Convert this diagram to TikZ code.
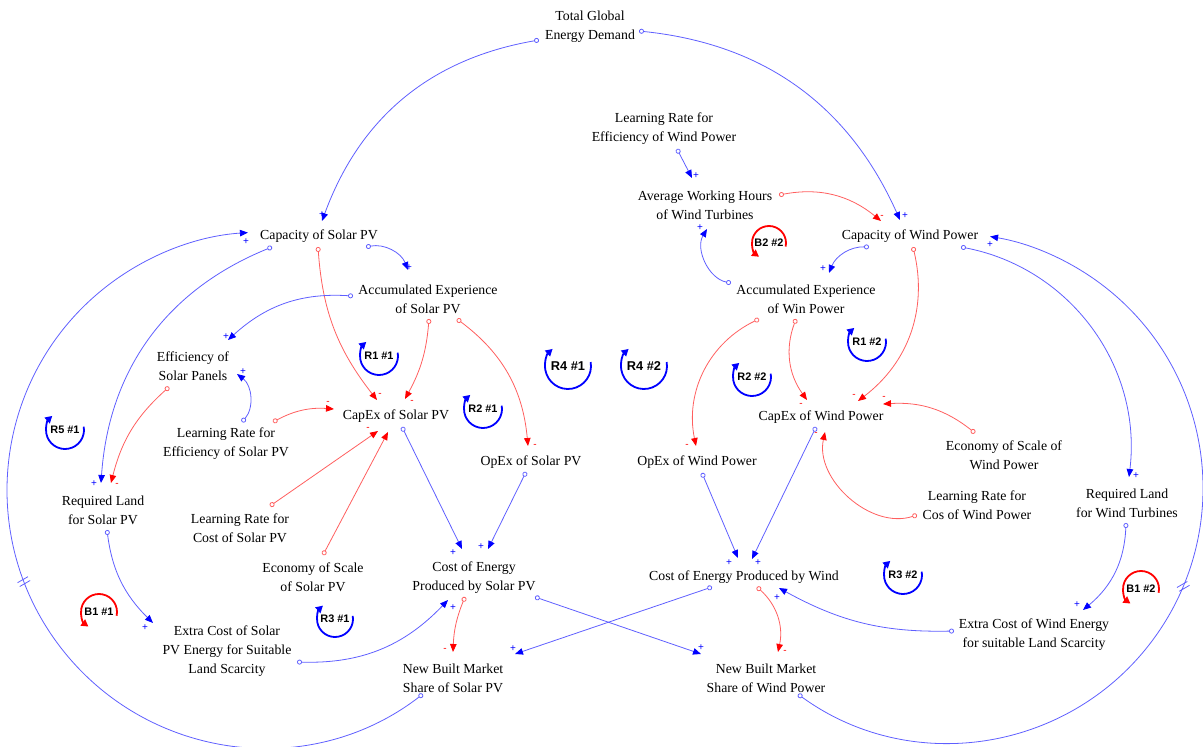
\documentclass[tikz,border=0pt]{standalone}
\usepackage{fontspec}
\setmainfont{Liberation Serif}
\newfontfamily\lpfont{Liberation Sans}
\usetikzlibrary{arrows.meta,calc}
\definecolor{lb}{RGB}{95,95,255}
\definecolor{hb}{RGB}{0,0,255}
\definecolor{lr}{RGB}{255,95,95}
\definecolor{hr}{RGB}{255,0,0}
\tikzset{
  var/.style={align=center, font=\fontsize{13.8}{19}\selectfont, inner sep=0pt},
  lkb/.style={draw=lb, line width=0.8pt, {Circle[open,length=5pt,width=5pt]}-{Triangle[length=8pt,width=6.5pt,color=hb]}},
  lkr/.style={draw=lr, line width=0.8pt, {Circle[open,length=5pt,width=5pt]}-{Triangle[length=8pt,width=6.5pt,color=hr]}},
  sgb/.style={text=hb, font=\lpfont\fontsize{10}{10}\selectfont, inner sep=0pt},
  sgr/.style={text=hr, font=\lpfont\fontsize{10}{10}\selectfont, inner sep=0pt},
  loopb/.style={draw=hb, line width=1.8pt, -{Triangle[length=7pt,width=7.5pt]}},
  loopr/.style={draw=hr, line width=1.8pt, -{Triangle[length=7pt,width=7.5pt]}},
  lpt/.style={font=\lpfont\bfseries\fontsize{10.9}{11}\selectfont, inner sep=0pt},
  lptbig/.style={font=\lpfont\bfseries\fontsize{12.8}{13}\selectfont, inner sep=0pt},
  hashline/.style={draw=lb, line width=0.8pt},
}
\newcounter{lkc}
\newcommand\lk[6]{%
  \stepcounter{lkc}%
  \coordinate (t\thelkc) at (#2);
  \coordinate (h\thelkc) at (#3);
  \draw[lk#1] (t\thelkc) to[#4] (h\thelkc);
  \node[sg#1] (s\thelkc) at (#5) {#6};
}
\newcommand\lpR[5]{% name, center, radius, label, textstyle
  \draw[loopb] ($(#2)+(10:#3)$) arc[start angle=10,end angle=-228,radius=#3];
  \node[#5] (#1) at (#2) {#4};
}
\newcommand\lpB[4]{% name, center, radius, label
  \draw[loopr] ($(#2)+(-12:#3)$) arc[start angle=-12,end angle=234,radius=#3];
  \node[lpt] (#1) at (#2) {#4};
}
\newcommand\hsh[1]{%
  \begin{scope}[shift={(#1)},rotate=30]
    \draw[hashline] (-6,2.2)--(6,2.2) (-6,-2.2)--(6,-2.2);
  \end{scope}
}
\begin{document}
\begin{tikzpicture}[x=1pt,y=1pt]
\useasboundingbox (0,0) rectangle (1203,-747);

% variables
\node[var] (tged) at (590,-27) {Total Global\\Energy Demand};
\node[var] (lrw) at (664,-128.5) {Learning Rate for\\Efficiency of Wind Power};
\node[var] (avg) at (705,-205) {Average Working Hours\\of Wind Turbines};
\node[var] (capS) at (319,-236) {Capacity of Solar PV};
\node[var] (capW) at (910,-236) {Capacity of Wind Power};
\node[var] (accS) at (428,-299.5) {Accumulated Experience\\of Solar PV};
\node[var] (accW) at (806,-299) {Accumulated Experience\\of Win Power};
\node[var] (eff) at (193,-366.5) {Efficiency of\\Solar Panels};
\node[var] (cxS) at (396,-416) {CapEx of Solar PV};
\node[var] (cxW) at (821,-417) {CapEx of Wind Power};
\node[var] (lreS) at (226,-444) {Learning Rate for\\Efficiency of Solar PV};
\node[var] (ecoW) at (1004,-455) {Economy of Scale of\\Wind Power};
\node[var] (opS) at (531,-462) {OpEx of Solar PV};
\node[var] (opW) at (697,-462) {OpEx of Wind Power};
\node[var] (lrcW) at (977,-505.5) {Learning Rate for\\Cos of Wind Power};
\node[var] (rlS) at (103,-510.5) {Required Land\\for Solar PV};
\node[var] (rlW) at (1127,-503.5) {Required Land\\for Wind Turbines};
\node[var] (lrcS) at (240,-528.5) {Learning Rate for\\Cost of Solar PV};
\node[var] (ecoS) at (313,-577.5) {Economy of Scale\\of Solar PV};
\node[var] (coeS) at (474,-577.5) {Cost of Energy\\Produced by Solar PV};
\node[var] (coeW) at (744,-577) {Cost of Energy Produced by Wind};
\node[var] (exS) at (227,-651) {Extra Cost of Solar\\PV Energy for Suitable\\Land Scarcity};
\node[var] (exW) at (1034,-635) {Extra Cost of Wind Energy\\for suitable Land Scarcity};
\node[var] (nbS) at (453,-678) {New Built Market\\Share of Solar PV};
\node[var] (nbW) at (766,-678) {New Built Market\\Share of Wind Power};

% links
\lk{b}{539,-40}{322,-221}{bend right=30}{322,-215}{+}
\lk{b}{639,-31}{900,-220}{bend left=30}{905,-216}{+}
\lk{b}{677,-149}{692,-178}{}{696,-176}{+}
\lk{r}{779,-195}{881,-221}{bend left=25}{882,-217}{-}
\lk{b}{731,-283}{707,-229}{bend left=55}{700,-228}{+}
\lk{b}{869,-247}{829,-273}{bend right=35}{823,-269}{+}
\lk{r}{913,-247}{858,-401}{bend left=33}{854,-396}{-}
\lk{b}{961,-247}{1129,-477}{bend left=43}{1136,-476}{+}
\lk{r}{759,-319}{696,-446}{bend right=38}{687,-446}{-}
\lk{r}{796,-319}{807,-400}{bend right=28}{801,-405}{-}
\lk{r}{975,-433}{883,-404}{bend right=21}{884,-398}{-}
\lk{r}{917,-515}{825,-432}{bend left=60}{816,-434}{-}
\lk{b}{816,-427}{752,-559}{}{758,-563}{+}
\lk{b}{702,-473}{738,-558}{}{729,-563}{+}
\lk{b}{712,-587}{515,-654}{}{513,-649}{+}
\lk{b}{535,-597}{701,-654}{}{701,-648}{+}
\lk{r}{465,-597}{453,-652}{bend right=10}{445,-650}{-}
\lk{r}{757,-587}{778,-652}{bend left=30}{785,-652}{-}
\lk{b}{954,-631}{779,-588}{bend left=15}{777,-598}{+}
\lk{b}{1126,-523}{1083,-610}{bend left=24}{1077,-605}{+}
\lk{b}{366,-247}{408,-270}{bend left=40}{409,-268}{+}
\lk{r}{318,-247}{377,-400}{bend right=17}{380,-395}{-}
\lk{b}{272,-247}{101,-483}{bend right=32}{94,-484}{+}
\lk{b}{353,-296}{228,-340}{bend right=23}{226,-337}{+}
\lk{b}{242,-422}{237,-374}{bend right=47}{243,-372}{+}
\lk{r}{273,-422}{334,-409}{bend left=16}{328,-403}{-}
\lk{r}{169,-387}{111,-483}{bend right=17}{117,-485}{-}
\lk{r}{270,-506}{378,-431}{}{368,-429}{-}
\lk{r}{323,-555}{388,-432}{}{393,-426}{}
\lk{b}{402,-427}{462,-549}{}{453,-553}{+}
\lk{b}{526,-472}{488,-549}{}{481,-547}{+}
\lk{b}{107,-530}{153,-623}{bend right=19}{145,-628}{+}
\lk{b}{297,-662}{448,-600}{bend right=24}{453,-608}{+}
\lk{r}{429,-319}{405,-399}{bend left=12}{412,-402}{-}
\lk{r}{457,-319}{528,-446}{bend left=24}{535,-446}{-}

% big outer arcs
\coordinate (cR) at (948,-488);
\coordinate (nbWt) at ($(cR)+(234:255)$);
\draw[lkb] (nbWt) arc[start angle=234, end angle=440.5, radius=255];
\node[sgb] (sR) at (990,-245) {+};
\hsh{$(cR)+(-22.7:255)$}

\coordinate (cL) at (265,-490);
\coordinate (nbSt) at ($(cL)+(-52.3:258)$);
\draw[lkb] (nbSt) arc[start angle=-52.3, end angle=-266.2, radius=258];
\node[sgb] (sL) at (246,-242) {+};
\hsh{$(cL)+(200.8:258)$}

% loops
\lpR{R11}{379,-356}{19}{R1 \#1}{lpt}
\lpR{R21}{483,-409}{19}{R2 \#1}{lpt}
\lpR{R31}{335,-619}{18}{R3 \#1}{lpt}
\lpR{R41}{568,-366}{23}{R4 \#1}{lptbig}
\lpR{R42}{644,-366}{23}{R4 \#2}{lptbig}
\lpR{R51}{65,-430}{19}{R5 \#1}{lpt}
\lpR{R12}{867,-342}{19}{R1 \#2}{lpt}
\lpR{R22}{752,-377}{19}{R2 \#2}{lpt}
\lpR{R32}{903,-575}{19}{R3 \#2}{lpt}
\lpB{B11}{99,-612}{18}{B1 \#1}
\lpB{B12}{1141,-589}{18}{B1 \#2}
\lpB{B22}{769,-243}{17}{B2 \#2}
\end{tikzpicture}
\end{document}
